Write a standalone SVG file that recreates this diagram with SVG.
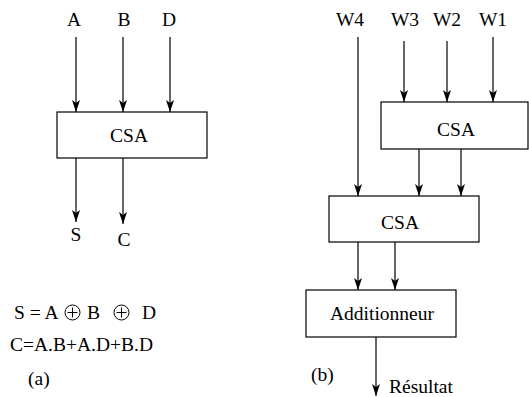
<svg xmlns="http://www.w3.org/2000/svg" width="529" height="397" viewBox="0 0 529 397">
<style>
text{font-family:"Liberation Serif","Times New Roman",serif;font-size:19.5px;fill:#000}
.m{text-anchor:middle}
.box{fill:#fff;stroke:#000;stroke-width:1.2}
.w{stroke:#000;stroke-width:1.2;fill:none;marker-end:url(#ah)}
.op{fill:none;stroke:#000;stroke-width:1}
</style>
<defs>
<marker id="ah" markerUnits="userSpaceOnUse" markerWidth="12" markerHeight="8" viewBox="0 0 12 8" refX="12" refY="4" orient="auto">
<path d="M0,0 L12,4 L0,8 L3,4 z" fill="#000"/>
</marker>
</defs>
<g id="connectors">
<line class="w" x1="76" y1="37" x2="76" y2="112"/>
<line class="w" x1="123" y1="37" x2="123" y2="112"/>
<line class="w" x1="170" y1="37" x2="170" y2="112"/>
<line class="w" x1="76" y1="158" x2="76" y2="222"/>
<line class="w" x1="123" y1="158" x2="123" y2="224"/>
<line class="w" x1="358" y1="37" x2="358" y2="196"/>
<line class="w" x1="404" y1="41" x2="404" y2="102"/>
<line class="w" x1="447" y1="41" x2="447" y2="102"/>
<line class="w" x1="493" y1="37" x2="493" y2="102"/>
<line class="w" x1="419" y1="149" x2="419" y2="196"/>
<line class="w" x1="461" y1="149" x2="461" y2="196"/>
<line class="w" x1="358" y1="242" x2="358" y2="290"/>
<line class="w" x1="395" y1="242" x2="395" y2="290"/>
<line class="w" x1="376" y1="337" x2="376" y2="396"/>
</g>
<g id="labels-a">
<text class="m" x="74" y="26">A</text>
<text class="m" x="124" y="26">B</text>
<text class="m" x="169" y="26">D</text>
<text class="m" x="76" y="241">S</text>
<text class="m" x="124" y="246">C</text>
</g>
<g id="csa-a">
<rect class="box" x="57" y="112" width="150" height="46"/>
<text class="m" x="129" y="142">CSA</text>
</g>
<g id="formulas">
<text x="14" y="319">S = A</text>
<circle class="op" cx="72.5" cy="312.5" r="7.5"/>
<line class="op" x1="67.5" y1="312.5" x2="77.5" y2="312.5"/>
<line class="op" x1="72.5" y1="307.5" x2="72.5" y2="317.5"/>
<text x="87" y="319">B</text>
<circle class="op" cx="121.5" cy="312.5" r="7.5"/>
<line class="op" x1="116.5" y1="312.5" x2="126.5" y2="312.5"/>
<line class="op" x1="121.5" y1="307.5" x2="121.5" y2="317.5"/>
<text x="142" y="319">D</text>
<text x="10" y="351">C=A.B+A.D+B.D</text>
<text x="28" y="385">(a)</text>
</g>
<g id="labels-b">
<text class="m" x="350" y="26">W4</text>
<text class="m" x="405" y="26">W3</text>
<text class="m" x="447" y="26">W2</text>
<text class="m" x="493" y="26">W1</text>
</g>
<g id="csa-1">
<rect class="box" x="381" y="102" width="147" height="47"/>
<text class="m" x="456" y="136">CSA</text>
</g>
<g id="csa-2">
<rect class="box" x="329" y="196" width="150" height="46"/>
<text class="m" x="400" y="229">CSA</text>
</g>
<g id="additionneur">
<rect class="box" x="306" y="290" width="150" height="47"/>
<text class="m" x="382" y="320">Additionneur</text>
</g>
<g id="result">
<text x="389" y="393">Résultat</text>
<text x="311" y="381">(b)</text>
</g>
</svg>
